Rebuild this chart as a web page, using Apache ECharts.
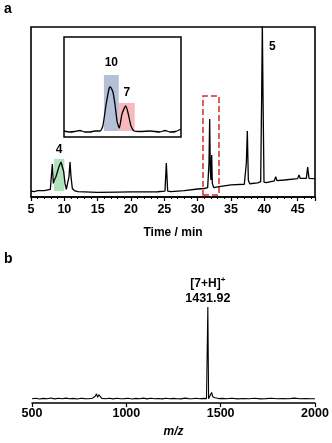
<!DOCTYPE html>
<html><head><meta charset="utf-8">
<script src="https://cdn.jsdelivr.net/npm/echarts@6/dist/echarts.min.js"></script>
<style>html,body{margin:0;padding:0;background:#fff}#c{width:332px;height:443px}</style>
</head><body><div id="c"></div>
<script>
// Panel a: HPLC chromatogram, [time (min), intensity (a.u.)]
const chromTime = [5,5.5,6,7,7.9,8.05,8.2,8.35,8.5,8.7,8.9,9.2,9.5,9.7,9.9,10.1,10.3,10.5,10.7,10.85,11.0,11.2,11.5,12,15,18,20,22,24,25.1,25.3,25.5,26,28,30,31,31.5,31.7,31.8,31.9,32.0,32.1,32.2,32.4,33,35,37,37.3,37.45,37.6,37.8,39,39.45,39.6,39.7,39.8,39.95,40.3,41.5,41.7,41.9,43,45,45.2,45.4,46.3,46.5,46.7,47.6];
const chromInt  = [3.5,3.2,3.7,3.8,4.5,12,19.4,8,10,11.5,14,18,20.6,20,15,8,4.5,4,12,20.6,12,5,3.8,3.2,2.7,2.9,3.0,3.0,3.1,3.5,20,3.5,3.2,3.8,4.7,5,5.5,20,45.9,15,10,24.7,8,5.5,6,7.1,7.5,20,38.8,10,7.8,8.3,9,60,102,60,8.8,8.4,9.5,12,9.6,10,10.8,13,10.9,11,17.6,11,10.8];
// Inset: zoom of the 30.8–33.2 min region
const insetTime = [31.0,31.11,31.2,31.3,31.39,31.49,31.58,31.68,31.73,31.79,31.85,31.87,31.92,31.96,32.0,32.04,32.09,32.16,32.2,32.26,32.32,32.43,32.62,32.8,32.9,32.99,33.1,33.2];
const insetInt  = [6,5,5.5,6.5,5,5,6,6,11,32,49,50,45,32,15,9,23,31,25,11,6,5.5,6,5,6.5,5,5.5,8];
// Panel b: mass spectrum, [m/z, relative intensity]
const msMz  = [500,520,540,560,580,600,620,640,660,680,700,720,740,760,780,800,820,835,842,848,855,862,870,890,910,930,950,970,990,1010,1030,1050,1070,1090,1110,1130,1150,1170,1190,1210,1230,1250,1270,1290,1310,1330,1350,1370,1390,1410,1425,1428,1432,1436,1440,1446,1452,1458,1463,1470,1478,1490,1510,1530,1560,1590,1620,1650,1680,1710,1740,1770,1800,1830,1860,1890,1920,1950,1980,2000];
const msInt = [4.5,5,4.2,4.8,4.4,5.2,4.3,4.9,4.5,5.1,4.4,4.8,4.2,5,4.6,4.4,5,7,9.5,6,8.5,6.5,4.8,4.4,5,4.3,4.9,4.5,4.6,5,4.2,4.8,4.4,5.1,4.3,4.9,4.5,4.7,4.3,5,4.4,4.8,4.5,4.3,5.1,4.6,4.4,4.9,4.5,4.8,4.6,4.5,100,4.5,5,6.5,11,6.5,8,5.5,5.2,4.6,4.8,4.4,5,4.3,4.7,4.5,4.9,4.3,4.6,5,4.4,4.7,4.5,5.1,4.4,4.6,4.5,4.4];
const xTicksA = [5,10,15,20,25,30,35,40,45];
const xTicksB = [500,1000,1500,2000];

const zip = (a,b)=>a.map((v,i)=>[v,b[i]]);
const font = 'Liberation Sans, Arial, sans-serif';
const lbl = (txt, extra)=>Object.assign({show:true, formatter:txt, color:'#000', fontFamily:font, fontWeight:'bold', fontSize:12}, extra||{});
const chart = echarts.init(document.getElementById('c'), null, {renderer:'canvas'});
chart.setOption({
  animation:false,
  backgroundColor:'#fff',
  grid:[
    {left:31, right:17, top:27, height:170, show:true, borderColor:'#000', borderWidth:1.6, backgroundColor:'transparent'},
    {left:64, top:37, width:117, height:100, show:true, borderColor:'#000', borderWidth:1.5, backgroundColor:'#fff', z:5},
    {left:32, right:17, top:307, height:96}
  ],
  xAxis:[
    {gridIndex:0, type:'value', min:5, max:47.6, interval:5,
     axisLine:{show:true, lineStyle:{color:'#000', width:1.6}},
     axisTick:{show:true, length:4, lineStyle:{color:'#000', width:1.2}},
     minorTick:{show:true, splitNumber:5, length:2, lineStyle:{color:'#000', width:1}},
     splitLine:{show:false},
     axisLabel:{color:'#000', fontFamily:font, fontWeight:'bold', fontSize:12.5, margin:6, showMaxLabel:false,
       formatter:v=>xTicksA.includes(v)?String(v):''},
     name:'Time / min', nameLocation:'middle', nameGap:30,
     nameTextStyle:{color:'#000', fontFamily:font, fontWeight:'bold', fontSize:12}},
    {gridIndex:1, type:'value', min:31.0, max:33.2, show:false},
    {gridIndex:2, type:'value', min:500, max:2000, interval:500,
     axisLine:{show:true, lineStyle:{color:'#000', width:1.5}},
     axisTick:{show:true, inside:false, length:4, lineStyle:{color:'#000', width:1.2}},
     splitLine:{show:false},
     axisLabel:{color:'#000', fontFamily:font, fontWeight:'bold', fontSize:12.5, margin:4,
       formatter:v=>xTicksB.includes(v)?String(v):''},
     name:'m/z', nameLocation:'middle', nameGap:23,
     nameTextStyle:{color:'#000', fontFamily:font, fontWeight:'bold', fontStyle:'italic', fontSize:12}}
  ],
  yAxis:[
    {gridIndex:0, type:'value', min:0, max:100, show:false},
    {gridIndex:1, type:'value', min:0, max:100, show:false},
    {gridIndex:2, type:'value', min:0, max:100, show:false}
  ],
  series:[
    {type:'line', xAxisIndex:0, yAxisIndex:0, data:zip(chromTime,chromInt), showSymbol:false, clip:true,
     lineStyle:{color:'#000', width:1.3}, z:3,
     markArea:{silent:true, z:2, data:[
       [{xAxis:8.46, yAxis:3.5, itemStyle:{color:'rgba(140,215,160,0.7)'},
         label:lbl('4',{position:'top', distance:3})},
        {xAxis:10.0, yAxis:22.4}],
       [{xAxis:30.8, yAxis:1.2, itemStyle:{color:'rgba(0,0,0,0)', borderColor:'#d42a2a', borderWidth:1.5, borderType:'dashed'}},
        {xAxis:33.2, yAxis:59.4}]
     ]},
     markPoint:{silent:true, symbol:'circle', symbolSize:1, itemStyle:{color:'rgba(0,0,0,0)'}, data:[
       {coord:[39.7,100], label:lbl('5',{position:'bottom', offset:[10,8]})}
     ]}},
    {type:'line', xAxisIndex:1, yAxisIndex:1, data:zip(insetTime,insetInt), showSymbol:false, smooth:0.2,
     lineStyle:{color:'#000', width:1.3}, z:8,
     markArea:{silent:true, z:6, data:[
       [{xAxis:31.75, yAxis:6, itemStyle:{color:'rgba(150,165,200,0.7)'},
         label:lbl('10',{position:'top', distance:6})},
        {xAxis:32.03, yAxis:62}],
       [{xAxis:32.03, yAxis:6, itemStyle:{color:'rgba(245,160,165,0.75)'},
         label:lbl('7',{position:'top', distance:4})},
        {xAxis:32.33, yAxis:34}]
     ]}},
    {type:'line', xAxisIndex:2, yAxisIndex:2, data:zip(msMz,msInt), showSymbol:false,
     lineStyle:{color:'#000', width:1.1},
     markPoint:{silent:true, symbol:'circle', symbolSize:1, itemStyle:{color:'rgba(0,0,0,0)'}, data:[
       {coord:[1432,100], label:{show:true, position:'top', distance:0,
         formatter:'{a|[7+H]}{s|+}\n{b|1431.92}',
         rich:{a:{fontFamily:font, fontWeight:'bold', fontSize:12, color:'#000', lineHeight:16},
               s:{fontFamily:font, fontWeight:'bold', fontSize:8, color:'#000', lineHeight:16, verticalAlign:'top', padding:[0,0,6,0]},
               b:{fontFamily:font, fontWeight:'bold', fontSize:12.5, color:'#000', lineHeight:15}}}}
     ]}}
  ],
  graphic:[
    {type:'text', left:4, top:2, style:{text:'a', font:'bold 14px '+font, fill:'#000'}},
    {type:'text', left:4, top:252, style:{text:'b', font:'bold 14px '+font, fill:'#000'}}
  ]
});
</script></body></html>
